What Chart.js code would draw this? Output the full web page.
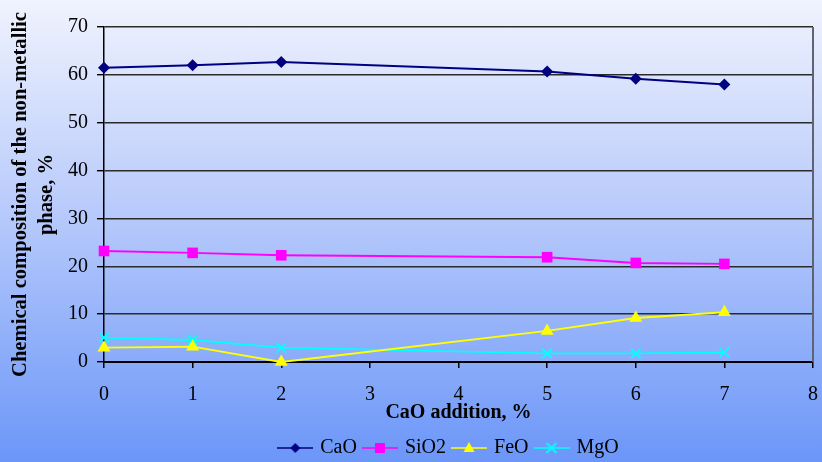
<!DOCTYPE html>
<html>
<head>
<meta charset="utf-8">
<script src="https://cdn.jsdelivr.net/npm/chart.js@4/dist/chart.umd.min.js"></script>
<style>
  html, body { margin: 0; padding: 0; }
  body {
    width: 822px; height: 462px; overflow: hidden;
    background: linear-gradient(to bottom, #f0f3fe 0%, #b9cbfb 45%, #6b96f8 100%);
  }
  #wrap { position: relative; width: 822px; height: 462px; }
</style>
</head>
<body>
<div id="wrap"><canvas id="chart" width="822" height="462"></canvas></div>
<script>
// CaO addition, % (x) and phase composition, % (y)
const additions = [0, 1, 2, 5, 6, 7];
const cao  = [61.5, 62.0, 62.7, 60.7, 59.2, 58.0];
const sio2 = [23.2, 22.8, 22.3, 21.9, 20.7, 20.5];
const feo  = [3.0, 3.2, 0.0, 6.5, 9.2, 10.4];
const mgo  = [5.1, 4.6, 3.0, 1.8, 1.8, 2.0];
const seriesNames = ['CaO', 'SiO2', 'FeO', 'MgO'];
const yTicks = [0, 10, 20, 30, 40, 50, 60, 70];
const xTicks = [0, 1, 2, 3, 4, 5, 6, 7, 8];

const SERIF = '"Liberation Serif", "Times New Roman", serif';

const styles = [
  { color: '#000080', point: 'rectRot', radius: 6 },
  { color: '#ff00ff', point: 'rect', radius: 7.5 },
  { color: '#ffff00', point: 'triangle', radius: 7.5 },
  { color: '#00ffff', point: 'crossRot', radius: 7 }
];

function toPoints(ys) { return additions.map((x, i) => ({ x: x, y: ys[i] })); }

// small line-with-marker swatch for each legend entry
function legendSwatch(style) {
  const c = document.createElement('canvas');
  c.width = 36; c.height = 14;
  const g = c.getContext('2d');
  const cx = 18, cy = 7;
  g.strokeStyle = style.color; g.fillStyle = style.color; g.lineWidth = 1.6;
  g.beginPath(); g.moveTo(0, cy); g.lineTo(36, cy); g.stroke();
  g.beginPath();
  if (style.point === 'rectRot') {
    g.moveTo(cx - 5, cy); g.lineTo(cx, cy - 5); g.lineTo(cx + 5, cy); g.lineTo(cx, cy + 5); g.closePath(); g.fill();
  } else if (style.point === 'rect') {
    g.rect(cx - 5, cy - 5, 10, 10); g.fill();
  } else if (style.point === 'triangle') {
    g.moveTo(cx, cy - 6); g.lineTo(cx + 5.5, cy + 4); g.lineTo(cx - 5.5, cy + 4); g.closePath(); g.fill();
  } else {
    g.lineWidth = 1.8;
    g.moveTo(cx - 5, cy - 5); g.lineTo(cx + 5, cy + 5);
    g.moveTo(cx + 5, cy - 5); g.lineTo(cx - 5, cy + 5); g.stroke();
  }
  return c;
}
const swatches = styles.map(legendSwatch);

const dataSeries = [cao, sio2, feo, mgo];
const datasets = dataSeries.map((ys, i) => ({
  label: seriesNames[i],
  data: toPoints(ys),
  borderColor: styles[i].color,
  backgroundColor: styles[i].color,
  borderWidth: 1.9,
  pointStyle: styles[i].point,
  pointRadius: styles[i].radius,
  pointHoverRadius: styles[i].radius,
  pointBorderWidth: styles[i].point === 'crossRot' ? 2 : 0,
  pointBorderColor: styles[i].color,
  pointBackgroundColor: styles[i].color,
  tension: 0,
  clip: false
}));

// right-hand frame line of the plot area
const frameRight = {
  id: 'frameRight',
  afterDraw(chart) {
    const a = chart.chartArea, ctx = chart.ctx;
    ctx.save();
    ctx.strokeStyle = '#5f6372';
    ctx.lineWidth = 2;
    ctx.beginPath();
    ctx.moveTo(a.right, a.top);
    ctx.lineTo(a.right, a.bottom);
    ctx.stroke();
    ctx.restore();
  }
};

// nudge the legend row a little to the left of the plot centre
const legendNudge = {
  id: 'legendNudge',
  afterLayout(chart) {
    const lg = chart.legend;
    if (lg) { lg.left -= 9; lg.right -= 9; }
  }
};

new Chart(document.getElementById('chart'), {
  type: 'line',
  data: { datasets: datasets },
  plugins: [frameRight, legendNudge],
  options: {
    responsive: false,
    animation: false,
    events: [],
    layout: { padding: { top: 27, right: 8, left: 0, bottom: -6 } },
    plugins: {
      tooltip: { enabled: false },
      legend: {
        position: 'bottom',
        fullSize: false,
        labels: {
          usePointStyle: true,
          pointStyleWidth: 30,
          padding: 8,
          color: '#000',
          font: { family: SERIF, size: 20 },
          generateLabels(chart) {
            return chart.data.datasets.map((ds, i) => ({
              text: ds.label,
              pointStyle: swatches[i],
              fillStyle: ds.borderColor,
              strokeStyle: ds.borderColor,
              lineWidth: 0,
              hidden: false,
              datasetIndex: i,
              fontColor: '#000'
            }));
          }
        }
      }
    },
    scales: {
      x: {
        type: 'linear',
        min: 0, max: 8,
        afterBuildTicks(scale) { scale.ticks = xTicks.map(v => ({ value: v })); },
        afterFit(scale) {
          scale.height = 68;
          scale.paddingRight = 0;
          scale.paddingLeft = 0;
        },
        ticks: {
          padding: 15,
          color: '#000',
          font: { family: SERIF, size: 20 }
        },
        grid: {
          drawOnChartArea: false,
          drawTicks: true,
          tickLength: 6,
          color: '#000',
          lineWidth: 1.5
        },
        border: { display: true, color: '#000', width: 2 },
        title: {
          display: true,
          text: 'CaO addition, %',
          color: '#000',
          font: { family: SERIF, size: 20, weight: 'bold', lineHeight: 1.2 },
          padding: { top: 0, bottom: 5 }
        }
      },
      y: {
        type: 'linear',
        min: 0, max: 70,
        afterBuildTicks(scale) { scale.ticks = yTicks.map(v => ({ value: v })); },
        afterFit(scale) { scale.width = 104; },
        ticks: {
          padding: 9,
          color: '#000',
          font: { family: SERIF, size: 20 }
        },
        grid: {
          color: '#2b2b2b',
          lineWidth: 1.4,
          tickLength: 7,
          tickColor: '#000'
        },
        border: { display: true, color: '#000', width: 1.5 },
        title: {
          display: true,
          text: ['Chemical composition of the non-metallic', 'phase, %'],
          color: '#000',
          font: { family: SERIF, size: 20.6, weight: 'bold', lineHeight: 1.25 },
          padding: { top: 8, bottom: 0 }
        }
      }
    }
  }
});
</script>
</body>
</html>
